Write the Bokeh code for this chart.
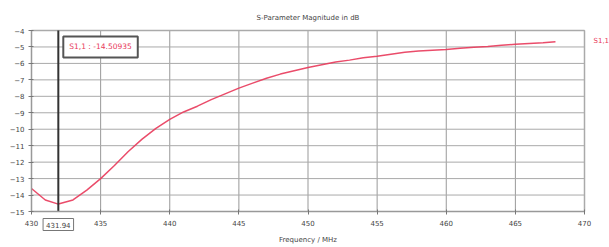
from bokeh.plotting import figure
from bokeh.models import Range1d, FixedTicker, Label
from bokeh.embed import file_html
from bokeh.resources import INLINE

# Data
freq_mhz = [430, 431, 431.94, 433, 434, 435, 436, 437, 438, 439, 440, 441, 442, 443,
            444, 445, 446, 447, 448, 449, 450, 451, 452, 453, 454, 455, 456, 457,
            458, 459, 460, 461, 462, 463, 464, 465, 466, 467, 467.9]
s11_db = [-13.6, -14.3, -14.55, -14.3, -13.7, -13.0, -12.2, -11.35, -10.6, -9.95, -9.4,
          -8.95, -8.6, -8.2, -7.85, -7.5, -7.2, -6.9, -6.65, -6.45, -6.25, -6.08,
          -5.92, -5.8, -5.66, -5.56, -5.44, -5.32, -5.25, -5.2, -5.15, -5.08, -5.02,
          -4.97, -4.9, -4.84, -4.79, -4.74, -4.68]
x_ticks = [430, 435, 440, 445, 450, 455, 460, 465, 470]
y_ticks = [-4, -5, -6, -7, -8, -9, -10, -11, -12, -13, -14, -15]
marker_freq = 431.94
marker_text = "S1,1 : -14.50935"
marker_freq_text = "431.94"
series_name = "S1,1"
title_text = "S-Parameter Magnitude in dB"
x_label = "Frequency / MHz"

RED = "#e8385a"
FONT = "DejaVu Sans"
W, H = 609, 247
# pixel layout of the data area inside the canvas
LEFT, RIGHT, TOP, BOTTOM = 31, 584, 30, 211
X0, X1 = x_ticks[0], x_ticks[-1]
Y_TOP, Y_BOT = y_ticks[0], y_ticks[-1]
ppx = (RIGHT - LEFT) / (X1 - X0)
ppy = (BOTTOM - TOP) / (Y_TOP - Y_BOT)
x_range = Range1d(X0 - LEFT / ppx, X1 + (W - RIGHT) / ppx)
y_range = Range1d(Y_BOT - (H - BOTTOM) / ppy, Y_TOP + TOP / ppy)

p = figure(width=W, height=H, output_backend="svg", toolbar_location=None,
           x_range=x_range, y_range=y_range,
           min_border_left=0, min_border_right=0, min_border_top=0, min_border_bottom=0)
p.outline_line_color = None
p.xgrid.grid_line_color = None
p.ygrid.grid_line_color = None

p.xaxis.ticker = FixedTicker(ticks=x_ticks)
p.xaxis.fixed_location = Y_BOT
p.xaxis.bounds = (X0, X1)
p.yaxis.ticker = FixedTicker(ticks=y_ticks)
p.yaxis.fixed_location = X0
p.yaxis.bounds = (Y_BOT, Y_TOP)
p.xaxis.axis_label = x_label
for ax in (p.xaxis, p.yaxis):
    ax.major_label_text_font = FONT
    ax.major_label_text_font_size = "7px"
    ax.major_label_text_color = "#444444"
    ax.axis_label_text_font = FONT
    ax.axis_label_text_font_size = "7px"
    ax.axis_label_text_font_style = "normal"
    ax.axis_label_text_color = "#444444"
    ax.axis_line_color = "#999999"
    ax.axis_line_width = 1.5
    ax.major_tick_line_color = "#777777"
    ax.major_tick_out = 3
    ax.major_tick_in = 2
    ax.minor_tick_line_color = None
p.xaxis.major_label_standoff = 5
p.xaxis.axis_label_standoff = 7
p.yaxis.major_label_standoff = 4

# grid lines over the data area only
n, m = len(x_ticks), len(y_ticks)
p.segment(x0=x_ticks, y0=[Y_BOT] * n, x1=x_ticks, y1=[Y_TOP] * n, line_color="#999999", line_width=1)
p.segment(x0=[X0] * m, y0=y_ticks, x1=[X1] * m, y1=y_ticks, line_color="#aaaaaa", line_width=1)
p.segment(x0=[X0, X1], y0=[Y_TOP, Y_BOT], x1=[X1, X1], y1=[Y_TOP, Y_TOP],
          line_color="#aaaaaa", line_width=1.5)

p.line(freq_mhz, s11_db, line_color=RED, line_width=1.5, line_alpha=0.9)

# marker line
p.segment(x0=[marker_freq], y0=[Y_BOT], x1=[marker_freq], y1=[Y_TOP], line_color="#333333", line_width=2)

# title
p.add_layout(Label(x=(X0 + X1) / 2, y=Y_TOP + 13 / ppy, text=title_text, text_align="center",
                   text_baseline="middle", text_font=FONT, text_font_size="7px",
                   text_color="#444444"))
# series name on the right
p.add_layout(Label(x=X1 + 9 / ppx, y=Y_TOP - 10 / ppy, text=series_name, text_align="left",
                   text_baseline="middle", text_font=FONT, text_font_size="7px", text_color=RED))

# marker readout box
p.add_layout(Label(x=432.3, y=-5.0, text=marker_text, x_offset=0, text_align="left",
                   text_baseline="middle", text_font=FONT, text_font_size="7.5px",
                   text_color=RED, padding=6, border_line_color="#555555", border_line_width=2,
                   background_fill_color="white"))

# marker frequency box below the axis
p.add_layout(Label(x=marker_freq, y=Y_BOT - 13 / ppy, text=marker_freq_text,
                   text_align="center", text_baseline="middle", text_font=FONT,
                   text_font_size="7px", text_color="#444444", padding=3,
                   border_line_color="#777777", border_line_width=1,
                   background_fill_color="white"))

open("out.html", "w").write(file_html(p, INLINE))
